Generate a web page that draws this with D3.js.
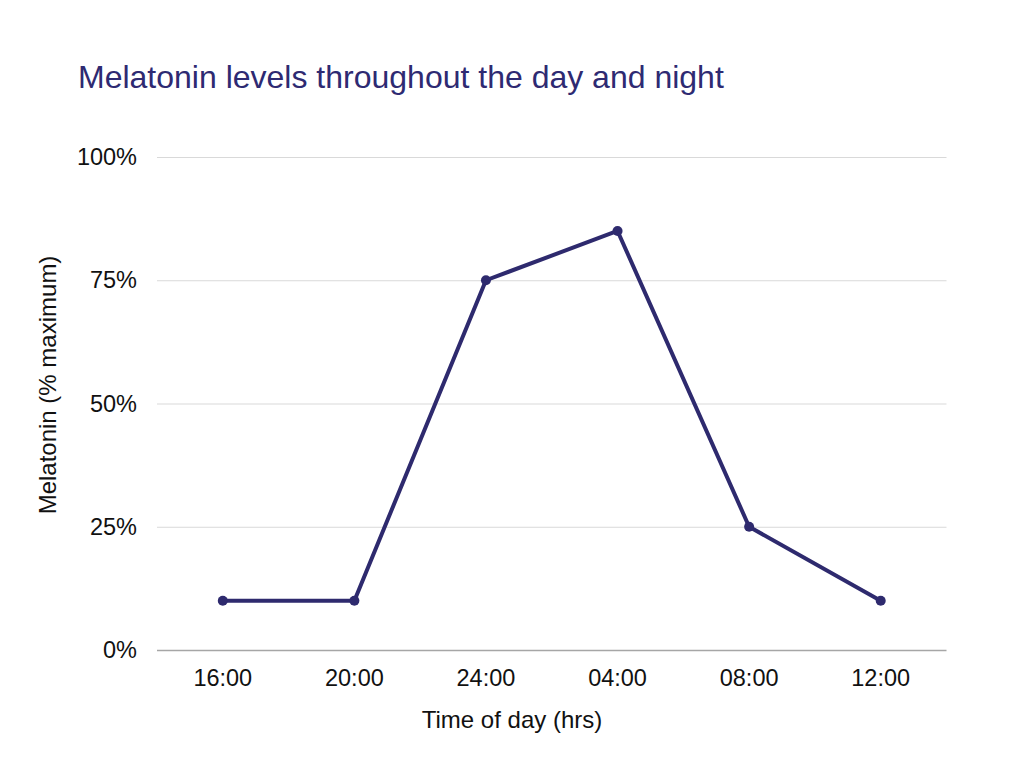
<!DOCTYPE html>
<html>
<head>
<meta charset="utf-8">
<script src="https://cdn.jsdelivr.net/npm/d3@7"></script>
<style>
  body { margin: 0; background: #fff; }
  text { font-family: "Liberation Sans", Arial, sans-serif; }
</style>
</head>
<body>
<svg id="chart" width="1024" height="768"></svg>
<script>
const categories = ["16:00", "20:00", "24:00", "04:00", "08:00", "12:00"];
const values = [10, 10, 75, 85, 25, 10];
const yTicks = [0, 25, 50, 75, 100];
const titleText = "Melatonin levels throughout the day and night";
const xTitle = "Time of day (hrs)";
const yTitle = "Melatonin (% maximum)";

(function () {
const svg = d3.select("#chart");
svg.append("rect").attr("width", 1024).attr("height", 768).attr("fill", "#fff");

const mLeft = 157, mRight = 946.5, mTop = 157, mBottom = 650;
const x = d3.scaleBand().domain(categories).range([mLeft, mRight]);
const y = d3.scaleLinear().domain([0, 100]).range([mBottom, mTop]);

const lineColor = "#2e2a6e";
const textColor = "#111";

const yAxis = d3.axisLeft(y).tickValues(yTicks).tickFormat(d => d + "%").tickSize(-(mRight - mLeft)).tickPadding(20);
const gy = svg.append("g").attr("transform", `translate(${mLeft},0)`).call(yAxis);
gy.select(".domain").remove();
gy.selectAll(".tick line").attr("stroke", d => d === 0 ? "#a6a6a6" : "#d9d9d9").attr("stroke-width", d => d === 0 ? 1.5 : 1);
gy.selectAll(".tick text").attr("font-size", 23.5).attr("fill", textColor).attr("font-family", "Liberation Sans, Arial, sans-serif");

const xAxis = d3.axisBottom(x).tickSize(0).tickPadding(19);
const gx = svg.append("g").attr("transform", `translate(0,${mBottom})`).call(xAxis);
gx.select(".domain").remove();
gx.selectAll(".tick text").attr("font-size", 23.5).attr("fill", textColor).attr("font-family", "Liberation Sans, Arial, sans-serif");

const line = d3.line().x((d, i) => x(categories[i]) + x.bandwidth() / 2).y(d => y(d));
svg.append("path").datum(values).attr("d", line).attr("fill", "none")
  .attr("stroke", lineColor).attr("stroke-width", 4).attr("stroke-linejoin", "round");

svg.selectAll("circle.pt").data(values).enter().append("circle").attr("class", "pt")
  .attr("cx", (d, i) => x(categories[i]) + x.bandwidth() / 2)
  .attr("cy", d => y(d)).attr("r", 5).attr("fill", lineColor);

svg.append("text").attr("x", 78).attr("y", 88).attr("font-size", 32).attr("fill", "#2e2a72").text(titleText);
svg.append("text").attr("x", 512).attr("y", 728).attr("text-anchor", "middle")
  .attr("font-size", 24).attr("fill", textColor).text(xTitle);
svg.append("text").attr("transform", `translate(56,385) rotate(-90)`)
  .attr("text-anchor", "middle").attr("font-size", 24).attr("fill", textColor).text(yTitle);
})();
</script>
</body>
</html>
